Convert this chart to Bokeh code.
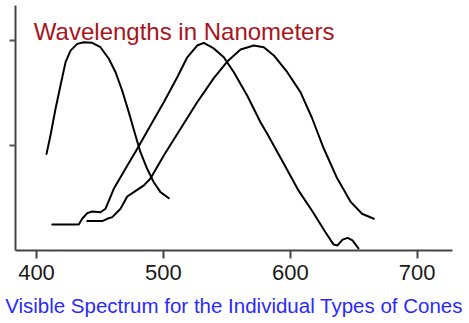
from bokeh.plotting import figure
from bokeh.models import Range1d, FixedTicker, Label
from bokeh.embed import file_html
from bokeh.resources import INLINE

# Cone sensitivity curves (wavelength in nm, relative response)
s_wl = [407.9, 411.0, 415.0, 418.9, 422.9, 426.8, 432.1, 437.3, 443.9, 450.4, 457.0, 462.3,
        467.5, 472.7, 478.0, 481.9, 487.2, 492.4, 497.7, 504.3]
s_val = [0.460, 0.548, 0.675, 0.786, 0.897, 0.952, 0.984, 0.992, 0.989, 0.968, 0.913, 0.849,
         0.762, 0.659, 0.548, 0.468, 0.389, 0.325, 0.278, 0.249]

m_wl = [412.4, 433.3, 436.0, 440.0, 443.9, 450.4, 454.4, 460.9, 470.1, 479.4, 489.8, 500.3,
        510.9, 518.8, 526.6, 531.8, 539.7, 547.6, 555.5, 566.0, 576.5, 581.8, 594.9, 606.0,
        617.5, 627.7, 634.0, 637.2, 641.2, 645.2, 649.0, 653.7]
m_val = [0.124, 0.124, 0.151, 0.178, 0.186, 0.182, 0.199, 0.294, 0.389, 0.484, 0.595, 0.706,
         0.825, 0.920, 0.976, 0.989, 0.962, 0.920, 0.849, 0.738, 0.611, 0.556, 0.413, 0.290,
         0.186, 0.087, 0.029, 0.024, 0.052, 0.060, 0.048, 0.010]

l_wl = [440.0, 451.8, 455.7, 459.7, 466.2, 471.5, 476.7, 484.6, 489.8, 500.3, 513.5, 526.6,
        539.7, 550.3, 560.8, 571.2, 579.1, 587.0, 597.6, 608.0, 617.1, 626.2, 636.8, 647.4,
        656.5, 665.8]
l_val = [0.140, 0.140, 0.151, 0.159, 0.199, 0.257, 0.278, 0.310, 0.343, 0.452, 0.580, 0.706,
         0.821, 0.900, 0.957, 0.976, 0.968, 0.929, 0.849, 0.754, 0.631, 0.488, 0.345, 0.233,
         0.175, 0.151]

x_ticks = [400, 500, 600, 700]
y_ticks = [0.5, 1.0]
title_text = "Wavelengths in Nanometers"
xlabel_text = "Visible Spectrum for the Individual Types of Cones"

FONT = "Liberation Sans"

p = figure(width=469, height=323, output_backend="svg", toolbar_location=None,
           x_range=Range1d(383.45, 727.8), y_range=Range1d(0, 1.1667),
           min_border_left=15, min_border_right=17, min_border_top=5, min_border_bottom=73)
p.outline_line_color = None
p.xgrid.visible = False
p.ygrid.visible = False
p.background_fill_color = "white"
p.border_fill_color = "white"

for xs, ys in [(s_wl, s_val), (m_wl, m_val), (l_wl, l_val)]:
    p.line(xs, ys, line_color="black", line_width=2, line_join="round", line_cap="round")

ax = p.xaxis[0]
ax.ticker = FixedTicker(ticks=x_ticks)
ax.major_tick_out = 8
ax.major_tick_in = 0
ax.minor_tick_line_color = None
ax.axis_line_color = "#444444"
ax.axis_line_width = 2
ax.major_tick_line_color = "#444444"
ax.major_tick_line_width = 2
ax.major_label_text_font = FONT
ax.major_label_text_font_size = "22px"
ax.major_label_text_color = "#1a1a1a"
ax.major_label_standoff = 6
ax.axis_label = xlabel_text
ax.axis_label_text_font = FONT
ax.axis_label_text_font_size = "20.5px"
ax.axis_label_text_font_style = "normal"
ax.axis_label_text_color = "#2a2aff"
ax.axis_label_standoff = 11

ay = p.yaxis[0]
ay.ticker = FixedTicker(ticks=y_ticks)
ay.major_tick_out = 6
ay.major_tick_in = 0
ay.minor_tick_line_color = None
ay.axis_line_color = "#444444"
ay.axis_line_width = 2
ay.major_tick_line_color = "#555555"
ay.major_tick_line_width = 2
ay.major_label_overrides = {0.5: "", 1.0: "", 1: ""}
ay.major_label_standoff = 0

p.add_layout(Label(x=397.9, y=1.043, text=title_text, text_font=FONT, text_font_size="24px",
                   text_color="#a8141c", text_align="left", text_baseline="alphabetic"))

open("out.html", "w").write(file_html(p, INLINE))
